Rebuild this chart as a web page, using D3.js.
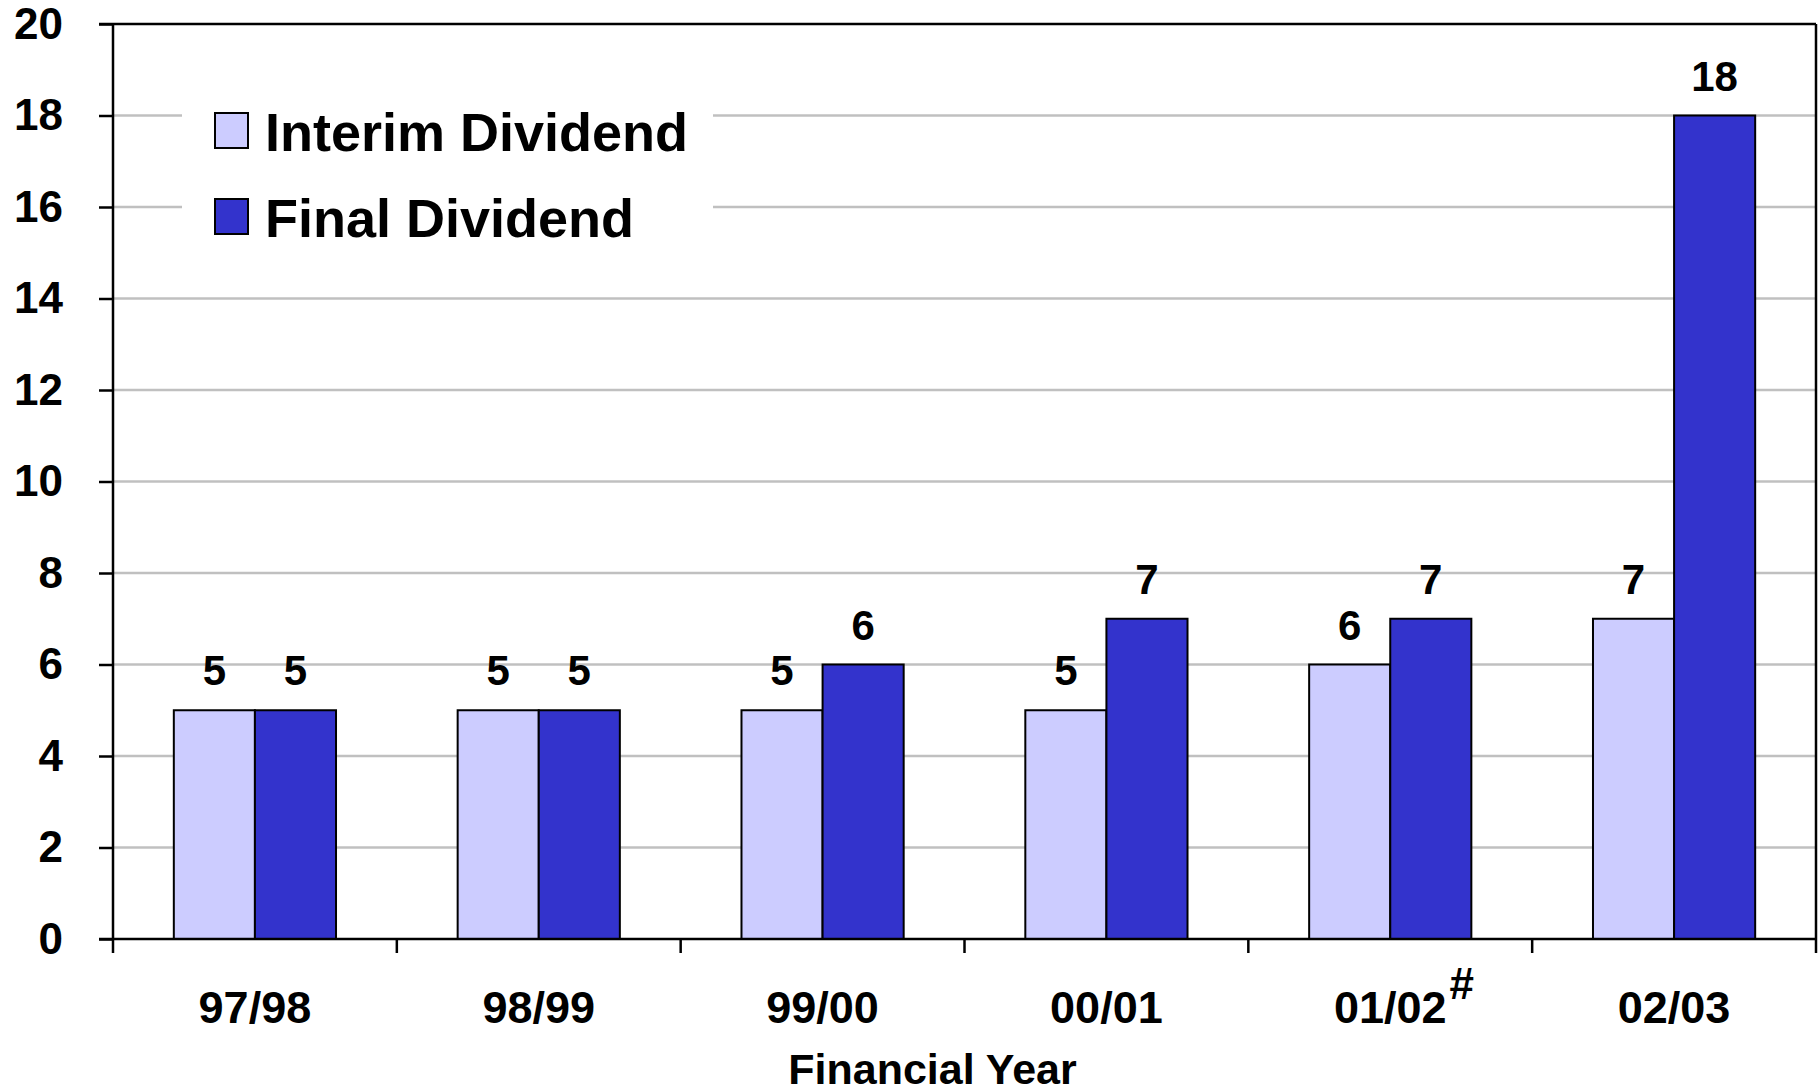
<!DOCTYPE html>
<html>
<head>
<script src="https://d3js.org/d3.v7.min.js"></script>
<style>
  body { margin: 0; background: #fff; }
  text { font-family: "Liberation Sans", Arial, sans-serif; font-weight: bold; fill: #000; }
</style>
</head>
<body>
<script>
    var years = ["97/98", "98/99", "99/00", "00/01", "01/02", "02/03"];
    var yearMarks = ["", "", "", "", "#", ""];
    var interim = [5, 5, 5, 5, 6, 7];
    var finalDiv = [5, 5, 6, 7, 7, 18];
    var seriesNames = ["Interim Dividend", "Final Dividend"];
    var seriesColors = ["#ccccff", "#3333cc"];
    var yTicks = [0, 2, 4, 6, 8, 10, 12, 14, 16, 18, 20];

    var W = 1818, H = 1092;
    var pLeft = 113, pRight = 1816, pTop = 24, pBottom = 939;

    var svg = d3.select("body").append("svg")
        .attr("width", W).attr("height", H);

    var y = d3.scaleLinear().domain([0, 20]).range([pBottom, pTop]);
    var x0 = d3.scaleBand().domain(years).range([pLeft, pRight]);
    var x1 = d3.scaleBand().domain([0, 1]).range([0, x0.bandwidth()]).paddingOuter(0.75);

    // gridlines
    svg.append("g").selectAll("line")
        .data(yTicks.filter(function(d){ return d > 0 && d < 20; }))
        .join("line")
        .attr("x1", pLeft).attr("x2", pRight)
        .attr("y1", function(d){ return y(d); })
        .attr("y2", function(d){ return y(d); })
        .attr("stroke", "#c0c0c0").attr("stroke-width", 2.5);

    // legend (white box hides gridlines)
    var lg = svg.append("g").attr("transform", "translate(182,95)");
    lg.append("rect").attr("x", 0).attr("y", 0).attr("width", 531).attr("height", 160).attr("fill", "#fff");
    seriesNames.forEach(function(name, i){
        var row = lg.append("g").attr("transform", "translate(33," + (18 + i * 86) + ")");
        row.append("rect").attr("x", 0).attr("y", 0).attr("width", 33).attr("height", 35)
            .attr("fill", seriesColors[i]).attr("stroke", "#000").attr("stroke-width", 2);
        row.append("text").attr("x", 50).attr("y", 38).attr("font-size", 54).text(name);
    });

    // bars
    var groups = svg.append("g").selectAll("g")
        .data(years.map(function(d, i){ return {year: d, vals: [interim[i], finalDiv[i]]}; }))
        .join("g")
        .attr("transform", function(d){ return "translate(" + x0(d.year) + ",0)"; });

    groups.selectAll("rect")
        .data(function(d){ return d.vals; })
        .join("rect")
        .attr("x", function(d, i){ return x1(i); })
        .attr("width", x1.bandwidth())
        .attr("y", function(d){ return y(d); })
        .attr("height", function(d){ return pBottom - y(d); })
        .attr("fill", function(d, i){ return seriesColors[i]; })
        .attr("stroke", "#000").attr("stroke-width", 2);

    groups.selectAll("text")
        .data(function(d){ return d.vals; })
        .join("text")
        .attr("x", function(d, i){ return x1(i) + x1.bandwidth() / 2; })
        .attr("y", function(d){ return y(d) - 25; })
        .attr("text-anchor", "middle")
        .attr("font-size", 42)
        .text(function(d){ return d; });

    // frame
    svg.append("line").attr("x1", 99).attr("x2", pRight).attr("y1", pTop).attr("y2", pTop)
        .attr("stroke", "#000").attr("stroke-width", 2.5);
    svg.append("line").attr("x1", pRight).attr("x2", pRight).attr("y1", pTop).attr("y2", pBottom)
        .attr("stroke", "#000").attr("stroke-width", 2.5);

    // y axis
    var yAxis = svg.append("g").attr("transform", "translate(" + pLeft + ",0)")
        .call(d3.axisLeft(y).tickValues(yTicks).tickSize(14).tickPadding(36));
    yAxis.selectAll("path, line").attr("stroke", "#000").attr("stroke-width", 2.5);
    yAxis.select(".domain").attr("d", "M0," + pTop + "V" + pBottom);
    yAxis.selectAll("text").attr("font-size", 44).attr("font-family", null);

    // x axis
    var xAxis = svg.append("g").attr("transform", "translate(0," + pBottom + ")");
    xAxis.append("line").attr("x1", 99).attr("x2", pRight).attr("y1", 0).attr("y2", 0)
        .attr("stroke", "#000").attr("stroke-width", 2.5);
    xAxis.selectAll("line.tick")
        .data(years.map(function(d){ return x0(d); }).concat([pRight]))
        .join("line").attr("class", "tick")
        .attr("x1", function(d){ return d; }).attr("x2", function(d){ return d; })
        .attr("y1", 0).attr("y2", 14)
        .attr("stroke", "#000").attr("stroke-width", 2.5);

    var xl = xAxis.selectAll("g.lbl").data(years).join("g").attr("class", "lbl");
    xl.append("text")
        .attr("x", function(d){ return x0(d) + x0.bandwidth() / 2; })
        .attr("y", 84)
        .attr("text-anchor", "middle")
        .attr("font-size", 45)
        .text(function(d){ return d; })
        .each(function(d, i){
            if (yearMarks[i]) {
                var w = this.getComputedTextLength();
                xAxis.append("text")
                    .attr("x", x0(d) + x0.bandwidth() / 2 + w / 2 + 3)
                    .attr("y", 60)
                    .attr("font-size", 44)
                    .text(yearMarks[i]);
            }
        });

    svg.append("text")
        .attr("x", (pLeft + pRight) / 2 - 32)
        .attr("y", 1084)
        .attr("text-anchor", "middle")
        .attr("font-size", 43)
        .text("Financial Year");
</script>
</body>
</html>
